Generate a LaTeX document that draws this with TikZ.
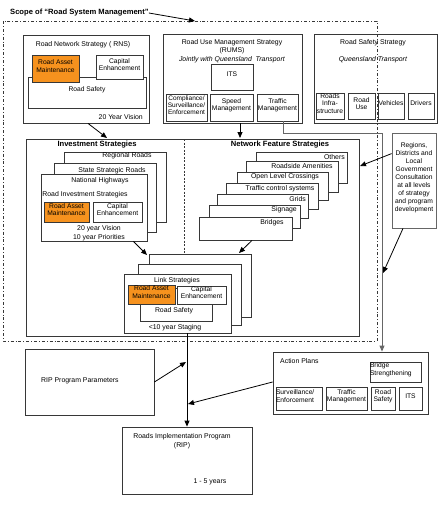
\documentclass[tikz,border=0pt]{standalone}
\usepackage{fontspec}
\setmainfont{Liberation Sans}
\usepackage{tikz}
\usetikzlibrary{arrows.meta,fit,positioning}
\definecolor{ramorange}{RGB}{246,146,30}
\definecolor{edge}{RGB}{55,55,55}

\begin{document}
\begin{tikzpicture}[x=1pt,y=-1pt,
    box/.style={draw=edge,line width=0.8pt,fill=white,rectangle,inner sep=0pt,align=center,font=\fontsize{6.7}{7.6}\selectfont},
    ram/.style={box,fill=ramorange},
    txt/.style={inner sep=0pt,align=center,font=\fontsize{6.9}{8.6}\selectfont},
    ttl/.style={inner sep=0pt,font=\bfseries\fontsize{7.6}{9}\selectfont},
    arr/.style={draw=black,line width=0.8pt,-{Triangle[length=6pt,width=5pt]}},
    feed/.style={draw=black!60,line width=0.9pt}]
    \useasboundingbox (0,0) rectangle (444,517);

    % Road Network Strategy
    \node[box,fit={(23,35) (149,123)}] (rns) {};
    \node[txt] (rnsT) at (83,45) {Road Network Strategy (\ RNS)};
    \node[box,fit={(28,77) (146,108)}] (rnsRS) {Road Safety};
    \node[ram,fit={(32,55) (79,82)}] (rnsRAM) {Road Asset\\Maintenance};
    \node[box,fit={(96,55) (143,79)}] (rnsCE) {Capital\\Enhancement};
    \node[txt,anchor=east] (rnsV) at (143,117) {20 Year Vision};

    % Road Use Management Strategy
    \node[box,fit={(163,34) (302,123)}] (rums) {};
    \node[txt] (rumsT) at (232,51) {Road Use Management Strategy\\(RUMS)\\\textit{Jointly with Queensland\ \ Transport}};
    \node[box,fit={(211,64) (253,90)}] (rumsITS) {ITS};
    \node[box,fit={(166,94) (207,121)},font=\fontsize{6.5}{7.4}\selectfont] (cse) {Compliance/\\Surveillance/\\Enforcement};
    \node[box,fit={(210,94) (253,121)}] (spm) {Speed\\Management};
    \node[box,fit={(257,94) (298,121)}] (tm) {Traffic\\Management};

    % Road Safety Strategy
    \node[box,fit={(314,34) (437,123)}] (rss) {};
    \node[txt] (rssT) at (373,43) {Road Safety Strategy};
    \node[txt] (rssQ) at (373,60) {\textit{Queensland Transport}};
    \node[box,fit={(316,93) (344,119)}] (rin) {Roads\\Infra-\\structure};
    \node[box,fit={(348,93) (375,119)}] (ruse) {Road\\Use};
    \node[box,fit={(378,93) (404,119)}] (veh) {Vehicles};
    \node[box,fit={(408,93) (434,119)}] (drv) {Drivers};

    % Investment and network feature strategies
    \node[box,fit={(26,139) (359,336)}] (big) {};
    \node[ttl] (invT) at (97,145) {Investment Strategies};
    \node[ttl] (nfsT) at (280,145) {Network Feature Strategies};
    \draw[edge,line width=0.7pt,dash pattern=on 2pt off 1.5pt] (184,139) -- (184,258);

    \node[box,fit={(64,152) (166,222)}] (rr) {};
    \node[txt] at (127,156) {Regional Roads};
    \node[box,fit={(54,163) (156,232)}] (ssr) {};
    \node[txt] at (112,171) {State Strategic Roads};
    \node[box,fit={(41,174) (147,241)}] (nh) {};
    \node[txt] at (100,181) {National Highways};
    \node[txt] at (85,195) {Road Investment Strategies};
    \node[ram,fit={(44,202) (89,222)}] (nhRAM) {Road Asset\\Maintenance};
    \node[box,fit={(93,202) (142,222)}] (nhCE) {Capital\\Enhancement};
    \node[txt] at (99,229) {20 year Vision};
    \node[txt] at (99,238) {10 year Priorities};

    \node[box,fit={(256,152) (347,183)}] (oth) {};
    \node[txt,anchor=east] at (345,157) {Others};
    \node[box,fit={(246,161) (338,192)}] (ra) {};
    \node[txt] at (302,166) {Roadside Amenities};
    \node[box,fit={(237,172) (328,200)}] (olc) {};
    \node[txt] at (285,177) {Open Level Crossings};
    \node[box,fit={(226,183) (318,209)}] (tcs) {};
    \node[txt] at (280,189) {Traffic control systems};
    \node[box,fit={(217,194) (308,218)}] (grd) {};
    \node[txt,anchor=east] at (306,199) {Grids};
    \node[box,fit={(209,205) (300,228)}] (sig) {};
    \node[txt,anchor=east] at (297,210) {Signage};
    \node[box,fit={(199,217) (292,240)}] (brg) {};
    \node[txt] at (272,223) {Bridges};

    % Link strategies
    \node[box,fit={(149,254) (251,317)}] (lk3) {};
    \node[box,fit={(138,264) (241,325)}] (lk2) {};
    \node[box,fit={(124,274) (231,333)}] (lk1) {};
    \node[txt] at (177,281) {Link Strategies};
    \node[box,fit={(140,288) (212,321)}] (lkRS) {};
    \node[txt] at (174,311) {Road Safety};
    \node[ram,fit={(128,285) (175,304)}] (lkRAM) {Road Asset\\Maintenance};
    \node[box,fit={(177,286) (226,304)}] (lkCE) {Capital\\Enhancement};
    \node[txt] at (175,328) {<10 year Staging};

    % Consultation
    \node[box,draw=black!60,fit={(392,133) (436,228)},font=\fontsize{6.7}{8}\selectfont] (reg) {Regions,\\Districts and\\Local\\Government\\Consultation\\at all levels\\of strategy\\and program\\development};

    % Lower part
    \node[box,fit={(25,349) (154,415)}] (rpp) {};
    \node[txt,anchor=west] at (41,381) {RIP Program Parameters};
    \node[box,fit={(273,352) (428,414)}] (ap) {};
    \node[txt,anchor=west] at (280,361) {Action Plans};
    \node[box,fit={(370,362) (421,382)},align=left] (bs) {Bridge\\Strengthening};
    \node[box,fit={(276,387) (322,410)},align=left] (se) {Surveillance/\\Enforcement};
    \node[box,fit={(326,387) (367,410)}] (atm) {Traffic\\Management};
    \node[box,fit={(371,387) (395,410)}] (ars) {Road\\Safety};
    \node[box,fit={(399,387) (422,410)}] (aits) {ITS};
    \node[box,fit={(122,427) (252,494)}] (rip) {};
    \node[txt] at (182,441) {Roads Implementation Program\\(RIP)};
    \node[txt] at (210,482) {1 - 5 years};

    % Scope
    \draw[edge,line width=0.8pt,dash dot] (3,21) rectangle (377,341);
    \node[ttl,anchor=west] (scope) at (10,13) {Scope of “Road System Management”};
    \coordinate (scopeT) at (195,21);
    \draw[arr] (scope.east) -- (scopeT);

    % Connectors
    \coordinate (invIn) at (107,138);
    \coordinate (nfsIn) at (240,138);
    \coordinate (jn) at (382,133);
    \coordinate (regA) at (360,166);
    \coordinate (regB) at (383,273);
    \coordinate (lkA) at (147,255);
    \coordinate (lkB) at (239,253);
    \coordinate (midA) at (186,362);
    \coordinate (midB) at (188,404);

    \draw[arr] ([xshift=2pt]rns.south) -- (invIn);
    \draw[arr] (rums.south -| nfsIn) -- (nfsIn);
    \draw[feed] ([xshift=5.5pt]tm.south) |- (jn);
    \draw[feed,-{Triangle[length=6pt,width=5pt]}] (jn) -- (jn |- ap.north);
    \draw[arr] ([yshift=-21pt]reg.north west) -- (regA);
    \draw[arr] ([xshift=-11pt]reg.south) -- (regB);
    \draw[arr] ([xshift=-14pt]nh.south east) -- (lkA);
    \draw[arr] ([xshift=6.5pt]brg.south) -- (lkB);
    \draw[arr] (lk1.south -| rip.north) -- (rip.north);
    \draw[arr] (rpp.east) -- (midA);
    \draw[arr] ([yshift=1pt]ap.west) -- (midB);
\end{tikzpicture}
\end{document}
